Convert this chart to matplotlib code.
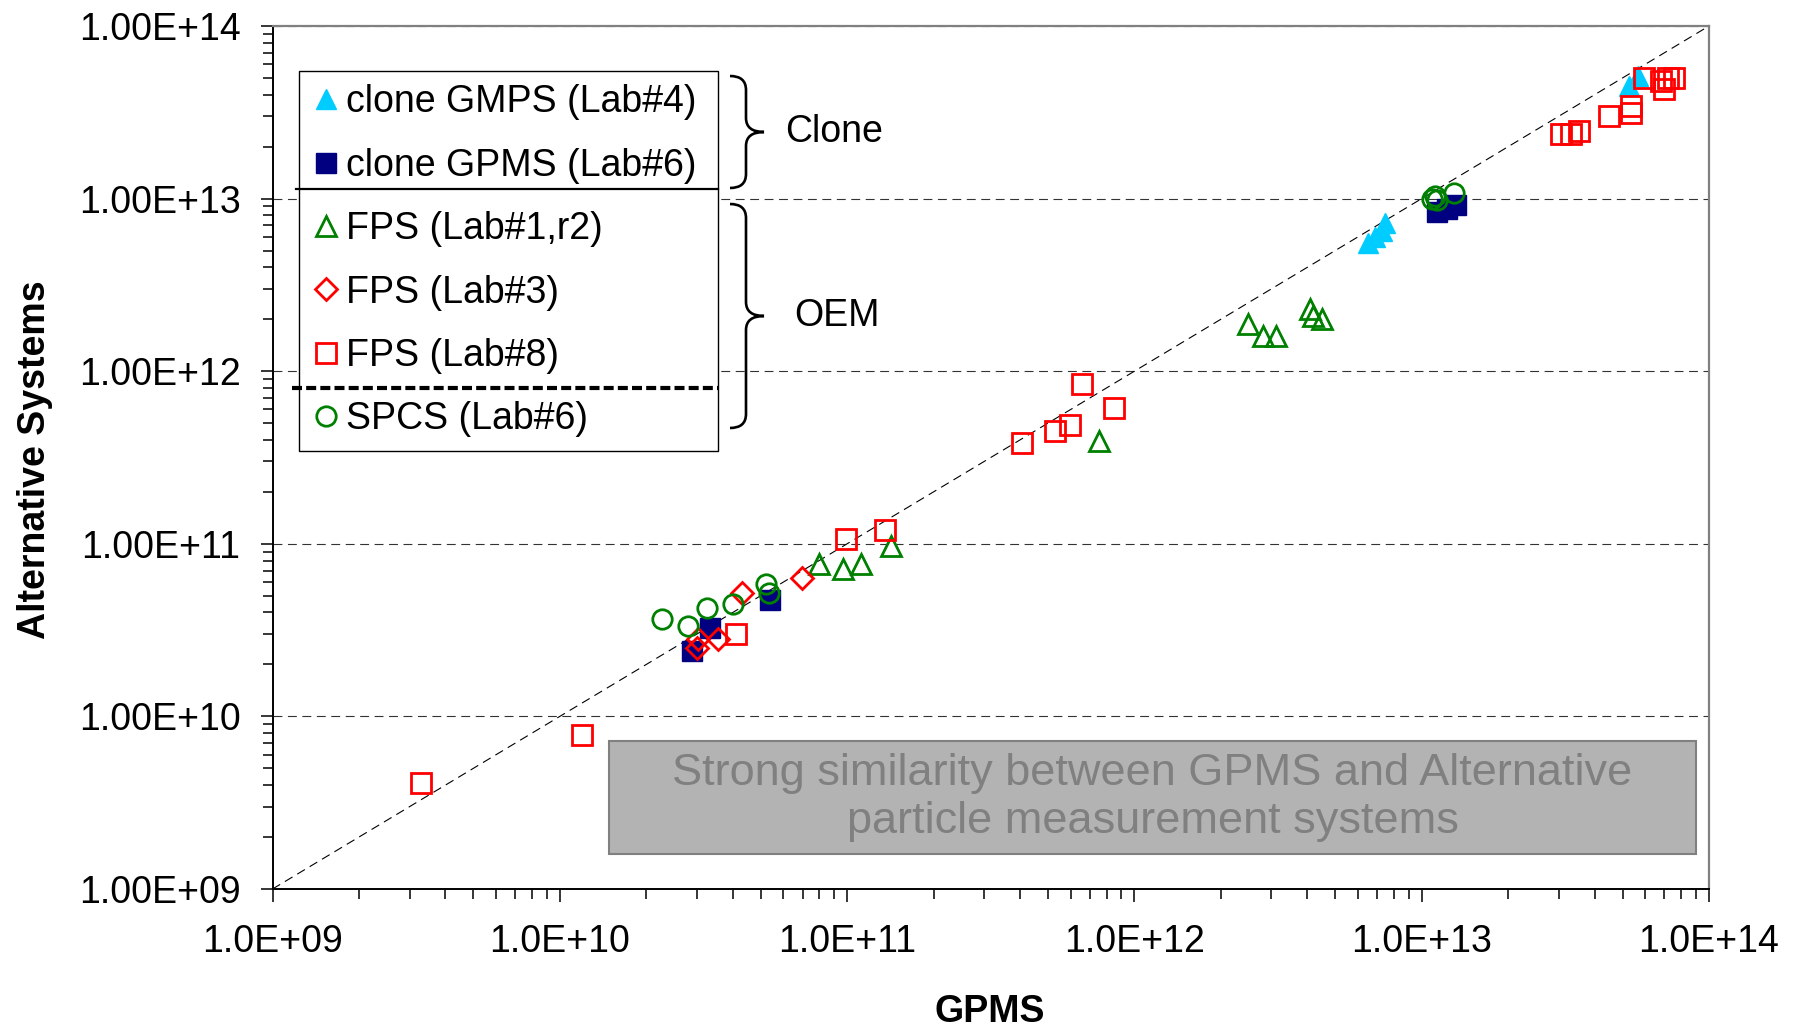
import matplotlib

matplotlib.use("Agg")
import matplotlib.pyplot as plt
from matplotlib.path import Path
from matplotlib.patches import PathPatch, Rectangle
from matplotlib.ticker import LogLocator, FuncFormatter, NullFormatter

plt.rcParams["font.family"] = ["Liberation Sans", "DejaVu Sans"]

# --- data (GPMS on x, alternative system on y) ---
gmps4_x = [6.5e12, 6.9e12, 7.25e12, 7.45e12, 5.25e13, 5.65e13]
gmps4_y = [5.5e12, 6.0e12, 6.5e12, 7.2e12, 4.5e13, 5.1e13]

gpms6_x = [2.88e10, 3.33e10, 5.4e10, 1.13e13, 1.22e13, 1.32e13]
gpms6_y = [2.4e10, 3.25e10, 4.7e10, 8.4e12, 8.7e12, 9.2e12]

fps1_x = [7.98e10, 9.7e10, 1.12e11, 1.42e11, 7.55e11,
          2.49e12, 2.81e12, 3.1e12, 4.1e12, 4.2e12, 4.5e12]
fps1_y = [7.6e10, 7.1e10, 7.6e10, 9.7e10, 3.95e11,
          1.88e12, 1.6e12, 1.6e12, 2.29e12, 2.08e12, 2.0e12]

fps3_x = [3.0e10, 3.03e10, 3.55e10, 4.3e10, 6.95e10]
fps3_y = [2.5e10, 2.8e10, 2.8e10, 5.2e10, 6.3e10]

fps8_x = [3.3e9, 1.19e10, 4.1e10, 9.9e10, 1.35e11, 4.06e11, 5.3e11, 5.97e11,
          6.55e11, 8.5e11, 3.05e13, 3.3e13, 3.52e13, 4.49e13, 5.35e13, 5.35e13,
          5.94e13, 6.8e13, 7.2e13, 7.55e13, 6.97e13]
fps8_y = [4.1e9, 7.8e9, 3.0e10, 1.06e11, 1.2e11, 3.86e11, 4.5e11, 4.86e11,
          8.45e11, 6.1e11, 2.37e13, 2.37e13, 2.47e13, 3.01e13, 3.44e13, 3.15e13,
          5.0e13, 4.8e13, 5.0e13, 5.0e13, 4.3e13]

spcs6_x = [2.26e10, 2.79e10, 3.25e10, 4.0e10, 5.2e10, 5.35e10,
           1.09e13, 1.11e13, 1.13e13, 1.3e13]
spcs6_y = [3.66e10, 3.34e10, 4.25e10, 4.48e10, 5.85e10, 5.2e10,
           1.0e13, 1.03e13, 0.98e13, 1.08e13]

labels = ["clone GMPS (Lab#4)", "clone GPMS (Lab#6)", "FPS (Lab#1,r2)",
          "FPS (Lab#3)", "FPS (Lab#8)", "SPCS (Lab#6)"]
note = "Strong similarity between GPMS and Alternative\nparticle measurement systems"

W, H = 1804, 1029
FS = 27


def px(x, y):
    # pixel position (from top-left) -> figure fraction
    return x / W, 1 - y / H


def brace(fig, x0, xv, xt, y0, ym, y1, r=14):
    verts = [px(x0, y0), px(xv, y0), px(xv, y0 + r),
             px(xv, ym - r), px(xv, ym), px(xt, ym),
             px(xv, ym), px(xv, ym + r),
             px(xv, y1 - r), px(xv, y1), px(x0, y1)]
    codes = [Path.MOVETO, Path.CURVE3, Path.CURVE3,
             Path.LINETO, Path.CURVE3, Path.CURVE3,
             Path.CURVE3, Path.CURVE3,
             Path.LINETO, Path.CURVE3, Path.CURVE3]
    fig.add_artist(PathPatch(Path(verts, codes), fill=False, lw=1.9,
                             edgecolor="black", transform=fig.transFigure))


fig = plt.figure(figsize=(W / 100, H / 100), dpi=100)
ax = fig.add_axes([272.5 / W, 1 - 889 / H, 1436.5 / W, 863 / H])

ax.set_xscale("log")
ax.set_yscale("log")
ax.set_xlim(1e9, 1e14)
ax.set_ylim(1e9, 1e14)

# horizontal grid + 1:1 line
ax.yaxis.grid(True, which="major", color="#333333", lw=0.8, ls=(0, (8, 5)))
ax.set_axisbelow(True)
ax.plot([1e9, 1e14], [1e9, 1e14], color="black", lw=0.8, ls=(0, (8, 5)), zorder=1.5)

common = dict(ls="none", ms=14, zorder=3)
h1, = ax.plot(gmps4_x, gmps4_y, marker="^", color="#00CCFF", mec="#00CCFF", **common)
h2, = ax.plot(gpms6_x, gpms6_y, marker="s", color="#000080", mec="#000080", **common)
h3, = ax.plot(fps1_x, fps1_y, marker="^", mfc="none", mec="#008000", mew=2.0, **common)
h4, = ax.plot(fps3_x, fps3_y, marker="D", mfc="none", mec="#FF0000", mew=2.0,
              ls="none", ms=11, zorder=3)
h5, = ax.plot(fps8_x, fps8_y, marker="s", mfc="none", mec="#FF0000", mew=2.0, **common)
h6, = ax.plot(spcs6_x, spcs6_y, marker="o", mfc="none", mec="#008000", mew=2.0, **common)

# axes styling
for side in ("left", "bottom"):
    ax.spines[side].set_color("black")
    ax.spines[side].set_linewidth(1.4)
for side in ("top", "right"):
    ax.spines[side].set_color("#808080")
    ax.spines[side].set_linewidth(1.6)

ax.xaxis.set_major_locator(LogLocator(base=10, numticks=10))
ax.yaxis.set_major_locator(LogLocator(base=10, numticks=10))
ax.xaxis.set_minor_locator(LogLocator(base=10, subs=range(2, 10), numticks=20))
ax.yaxis.set_minor_locator(LogLocator(base=10, subs=range(2, 10), numticks=20))
ax.xaxis.set_minor_formatter(NullFormatter())
ax.yaxis.set_minor_formatter(NullFormatter())
ax.xaxis.set_major_formatter(FuncFormatter(lambda v, _: f"{v:.1E}"))
ax.yaxis.set_major_formatter(FuncFormatter(lambda v, _: f"{v:.2E}"))
ax.tick_params(which="major", length=9, width=1.1, labelsize=FS)
ax.tick_params(which="minor", length=7, width=1.1)
ax.tick_params(axis="x", which="major", pad=16)
ax.tick_params(axis="y", which="major", pad=14)

fig.text(*px(35, 460), "Alternative Systems", rotation=90, ha="center", va="center",
         fontsize=FS, fontweight="bold")
fig.text(*px(990, 1012), "GPMS", ha="center", va="center", fontsize=FS, fontweight="bold")

# note box
ax.add_patch(Rectangle((0.2343, 0.0406), 0.991 - 0.2343, 0.1715 - 0.0406,
                       transform=ax.transAxes, facecolor="#B3B3B3",
                       edgecolor="#808080", lw=1.5, zorder=4))
ax.text((0.2343 + 0.991) / 2, 0.106, note, transform=ax.transAxes, ha="center",
        va="center", multialignment="center", fontsize=32.5, color="#808080",
        linespacing=1.22, zorder=5)

# legend
leg = ax.legend([h1, h2, h3, h4, h5, h6], labels, loc="upper left",
                bbox_to_anchor=(0.01845, 0.511, 0.3101 - 0.01845, 0.9479 - 0.511),
                mode="expand", borderaxespad=0, fontsize=FS, frameon=True,
                fancybox=False, framealpha=1, edgecolor="black", numpoints=1,
                borderpad=0.36, handlelength=0.72, handletextpad=0.18,
                labelspacing=0.73)
leg.get_frame().set_linewidth(1.0)
leg.set_zorder(6)

ax.plot([0.01636, 0.3101], [0.8111, 0.8111], transform=ax.transAxes, color="black",
        lw=1.6, clip_on=False, zorder=7)
ax.plot([0.01357, 0.3101], [0.5805, 0.5805], transform=ax.transAxes, color="black",
        lw=3.0, ls=(0, (2.4, 1.0)), clip_on=False, zorder=7)

brace(fig, 730, 746, 764, 76, 132, 188)
brace(fig, 730, 746, 764, 204, 316, 428)
fig.text(*px(785, 132), "Clone", ha="left", va="center", fontsize=FS)
fig.text(*px(794, 316), "OEM", ha="left", va="center", fontsize=FS)

fig.savefig("out.png", dpi=100)
